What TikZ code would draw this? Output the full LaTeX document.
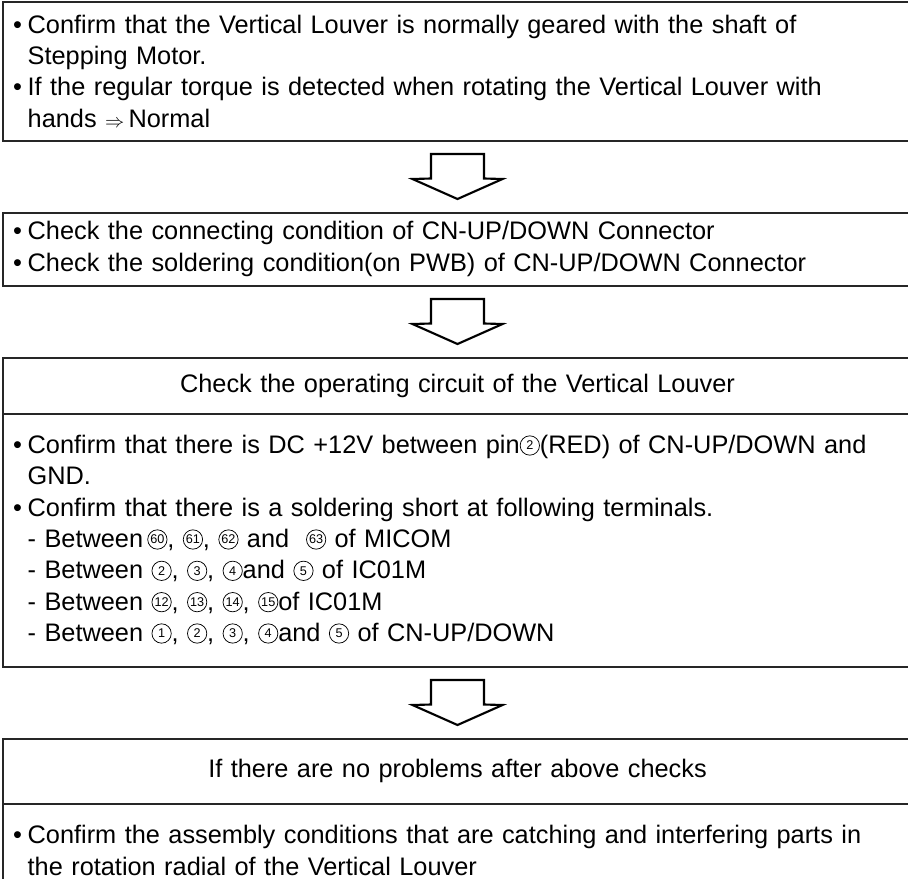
\documentclass[tikz,border=0pt]{standalone}
\usepackage{fontspec}
\setmainfont{Liberation Sans}
\usetikzlibrary{positioning}

\newcommand{\cnum}[1]{\tikz[baseline={([yshift=1.2pt]cn.south)}]
  \node[circle,draw,line width=0.55pt,inner sep=0pt,minimum size=14.5pt,
        text width=,align=center,font=\fontsize{9.5}{9.5}\selectfont] (cn) {#1};}
\newcommand{\bul}{\makebox[11pt][l]{\textbullet}}
\newcommand{\bulind}{\hspace*{11pt}}

\begin{document}
\begin{tikzpicture}[x=0.75pt,y=-0.75pt,
    node distance=54pt,
    frame/.style={draw=black!85, line width=1.5pt, inner xsep=7.5pt, inner ysep=0pt,
                  outer sep=0pt, text width=666.75pt, align=left,
                  font=\fontsize{19}{23.5}\selectfont},
    headbox/.style={frame, align=center},
    dnarrow/.pic={\draw[line width=1.6pt, line join=miter]
        (-26.5,-22.5) -- (-26.5,2) -- (-45,2.5) -- (0,22.5) -- (45,2.5)
        -- (26.5,2) -- (26.5,-22.5) -- cycle;},
]
\useasboundingbox (0,0) rectangle (908,879);
\clip (0,0) rectangle (908,879);

\node[frame, minimum height=104.25pt, anchor=north] (gear) at (457.5,1.5)
  {\bul Confirm that the Vertical Louver is normally geared with the shaft of\\
   \bulind Stepping Motor.\\
   \bul If the regular torque is detected when rotating the Vertical Louver with\\
   \bulind hands {\fontsize{14}{14}\selectfont$\Rightarrow$}\,Normal};
\node[frame, minimum height=54.75pt, below=of gear] (conn)
  {\bul Check the connecting condition of CN-UP/DOWN Connector\\
   \bul Check the soldering condition(on PWB) of CN-UP/DOWN Connector};
\node[headbox, minimum height=42pt, below=of conn] (circhead)
  {Check the operating circuit of the Vertical Louver};
\node[frame, minimum height=189.75pt, below=0pt of circhead] (circbody)
  {\bul Confirm that there is DC +12V between pin\cnum{2}(RED) of CN-UP/DOWN and\\
   \bulind GND.\\
   \bul Confirm that there is a soldering short at following terminals.\\
   \bulind - Between\,\cnum{60}, \cnum{61}, \cnum{62} and \ \cnum{63} of MICOM\\
   \bulind - Between \cnum{2}, \cnum{3}, \cnum{4}and \cnum{5} of IC01M\\
   \bulind - Between \cnum{12}, \cnum{13}, \cnum{14}, \cnum{15}of IC01M\\
   \bulind - Between \cnum{1}, \cnum{2}, \cnum{3}, \cnum{4}and \cnum{5} of CN-UP/DOWN};
\node[headbox, minimum height=48.75pt, below=of circbody] (asmhead)
  {If there are no problems after above checks};
\node[frame, minimum height=70.5pt, below=0pt of asmhead] (asmbody)
  {\bul Confirm the assembly conditions that are catching and interfering parts in\\
   \bulind the rotation radial of the Vertical Louver};

\path (gear.south) -- coordinate[midway] (m1) (conn.north);
\path (conn.south) -- coordinate[midway] (m2) (circhead.north);
\path (circbody.south) -- coordinate[midway] (m3) (asmhead.north);
\pic at (m1) {dnarrow};
\pic at (m2) {dnarrow};
\pic at (m3) {dnarrow};
\end{tikzpicture}
\end{document}
